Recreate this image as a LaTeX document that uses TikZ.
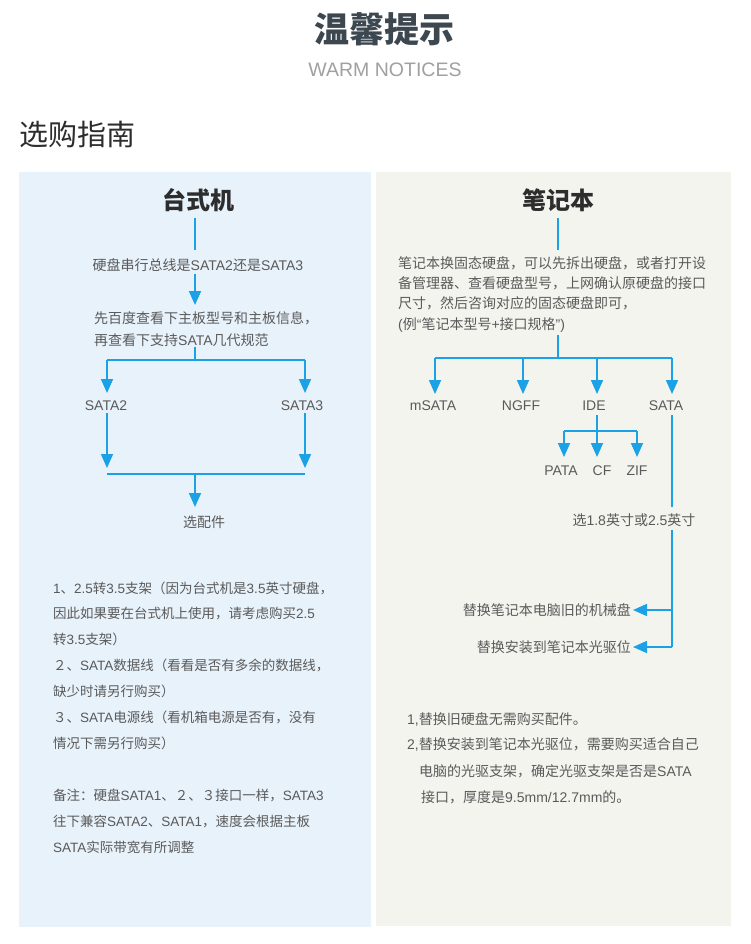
\documentclass[tikz,border=0pt]{standalone}
\usepackage{fontspec}
\setmainfont{Noto Sans CJK SC}
\newfontfamily\latinsans{Liberation Sans}
\newcommand\latn[1]{{\latinsans #1}}
\usetikzlibrary{arrows.meta}
\definecolor{flow}{RGB}{27,161,229}
\definecolor{leftbg}{RGB}{232,242,251}
\definecolor{rightbg}{RGB}{244,244,238}
\definecolor{txt}{RGB}{90,90,90}
\definecolor{hdr}{RGB}{60,71,79}
\definecolor{ttl}{RGB}{45,45,45}
\definecolor{sub}{RGB}{160,160,160}
\begin{document}
\begin{tikzpicture}[x=1pt,y=-1pt,
  line/.style={draw=flow,line width=1.7pt},
  arr/.style={line,-{Triangle[width=12pt,length=14pt]}},
  flowlbl/.style={text=txt,font=\fontsize{14}{16}\selectfont,inner sep=0pt,anchor=base},
  flowtxt/.style={text=txt,font=\fontsize{14}{16}\selectfont,inner sep=0pt,anchor=base west},
  notetxt/.style={text=txt,font=\fontsize{13.5}{16}\selectfont,inner sep=0pt,anchor=base west},
  paneltitle/.style={text=ttl,font=\fontsize{24}{28}\selectfont\bfseries,inner sep=0pt}
]
\useasboundingbox (0,0) rectangle (750,944);
\fill[white] (0,0) rectangle (750,944);

% header
\node[text=hdr,font=\fontsize{35}{40}\selectfont\bfseries,inner sep=0pt] (title) at (384,29) {温馨提示};
\node[text=sub,font=\latinsans\fontsize{19.5}{22}\selectfont,inner sep=0pt] (subtitle) at (385,70) {WARM NOTICES};
\node[text=ttl,font=\fontsize{29}{34}\selectfont,inner sep=0pt,anchor=west] (guide) at (19,134) {选购指南};

% panels
\fill[leftbg] (19,172) rectangle (371,927);
\fill[rightbg] (376,172) rectangle (731,926);

% ---------- left panel ----------
\node[paneltitle] (desk) at (198,200) {台式机};
\coordinate (dA) at (195,218);
\coordinate (dB) at (195,250);
\draw[line] (dA) -- (dB);
\node[flowlbl] (q1) at (198,270) {硬盘串行总线是\latn{SATA2}还是\latn{SATA3}};
\coordinate (dC) at (195,274);
\coordinate (dD) at (195,305);
\draw[arr] (dC) -- (dD);
\node[flowtxt] (q2a) at (94,323) {先百度查看下主板型号和主板信息，};
\node[flowtxt] (q2b) at (94,345) {再查看下支持\latn{SATA}几代规范};
\coordinate (dE) at (195,347);
\coordinate (dF) at (195,360);
\coordinate (dL) at (107,360);
\coordinate (dR) at (305,360);
\coordinate (dLt) at (107,393);
\coordinate (dRt) at (305,393);
\draw[line] (dE) -- (dF);
\draw[line] (dL) -- (dR);
\draw[arr] (dL) -- (dLt);
\draw[arr] (dR) -- (dRt);
\node[flowlbl] (s2) at (106,410) {\latn{SATA2}};
\node[flowlbl] (s3) at (302,410) {\latn{SATA3}};
\coordinate (dL2) at (107,413);
\coordinate (dR2) at (305,413);
\coordinate (dL3) at (107,468);
\coordinate (dR3) at (305,468);
\draw[arr] (dL2) -- (dL3);
\draw[arr] (dR2) -- (dR3);
\coordinate (dJL) at (107,474);
\coordinate (dJR) at (305,474);
\coordinate (dJ) at (195,474);
\coordinate (dK) at (195,507);
\draw[line] (dJL) -- (dJR);
\draw[arr] (dJ) -- (dK);
\node[flowlbl] (acc) at (204,527) {选配件};

% left notes
\node[notetxt] (n1) at (53,593) {\latn{1}、\latn{2.5}转\latn{3.5}支架（因为台式机是\latn{3.5}英寸硬盘，};
\node[notetxt] (n2) at (53,618) {因此如果要在台式机上使用，请考虑购买\latn{2.5}};
\node[notetxt] (n3) at (53,644) {转\latn{3.5}支架）};
\node[notetxt] (n4) at (53,670) {２、\latn{SATA}数据线（看看是否有多余的数据线，};
\node[notetxt] (n5) at (53,696) {缺少时请另行购买）};
\node[notetxt] (n6) at (53,722) {３、\latn{SATA}电源线（看机箱电源是否有，没有};
\node[notetxt] (n7) at (53,748) {情况下需另行购买）};
\node[notetxt] (n8) at (53,800) {备注：硬盘\latn{SATA1}、２、３接口一样，\latn{SATA3}};
\node[notetxt] (n9) at (53,826) {往下兼容\latn{SATA2}、\latn{SATA1}，速度会根据主板};
\node[notetxt] (n10) at (53,852) {\latn{SATA}实际带宽有所调整};

% ---------- right panel ----------
\node[paneltitle] (note) at (558,200) {笔记本};
\coordinate (rA) at (558,218);
\coordinate (rB) at (558,250);
\draw[line] (rA) -- (rB);
\node[flowtxt] (p1) at (398,268) {笔记本换固态硬盘，可以先拆出硬盘，或者打开设};
\node[flowtxt] (p2) at (398,288) {备管理器、查看硬盘型号，上网确认原硬盘的接口};
\node[flowtxt] (p3) at (398,308) {尺寸，然后咨询对应的固态硬盘即可，};
\node[flowtxt] (p4) at (398,329) {\latn{(}例\latn{“}笔记本型号\latn{+}接口规格\latn{”)}};
\coordinate (rC) at (558,335);
\coordinate (rD) at (558,358);
\draw[line] (rC) -- (rD);
\coordinate (r1) at (435,358);
\coordinate (r2) at (523,358);
\coordinate (r3) at (597,358);
\coordinate (r4) at (672,358);
\draw[line] (r1) -- (r4);
\coordinate (r1t) at (435,394);
\coordinate (r2t) at (523,394);
\coordinate (r3t) at (597,394);
\coordinate (r4t) at (672,394);
\draw[arr] (r1) -- (r1t);
\draw[arr] (r2) -- (r2t);
\draw[arr] (r3) -- (r3t);
\draw[arr] (r4) -- (r4t);
\node[flowlbl] (msata) at (433,410) {\latn{mSATA}};
\node[flowlbl] (ngff) at (521,410) {\latn{NGFF}};
\node[flowlbl] (ide) at (594,410) {\latn{IDE}};
\node[flowlbl] (sata) at (666,410) {\latn{SATA}};
% IDE branch
\coordinate (iA) at (597,415);
\coordinate (iB) at (597,431);
\coordinate (i1) at (564,431);
\coordinate (i3) at (637,431);
\coordinate (i1t) at (564,457);
\coordinate (i2t) at (597,457);
\coordinate (i3t) at (637,457);
\draw[line] (iA) -- (iB);
\draw[line] (i1) -- (i3);
\draw[arr] (i1) -- (i1t);
\draw[arr] (iB) -- (i2t);
\draw[arr] (i3) -- (i3t);
\node[flowlbl] (pata) at (561,475) {\latn{PATA}};
\node[flowlbl] (cf) at (602,475) {\latn{CF}};
\node[flowlbl] (zif) at (637,475) {\latn{ZIF}};
% SATA branch
\coordinate (sA) at (672,415);
\coordinate (sB) at (672,507);
\draw[line] (sA) -- (sB);
\node[flowlbl] (size) at (634,525) {选\latn{1.8}英寸或\latn{2.5}英寸};
\coordinate (sC) at (672,530);
\coordinate (sD) at (672,610);
\coordinate (sE) at (672,647);
\coordinate (t1) at (633,610);
\coordinate (t2) at (633,647);
\draw[line] (sC) -- (sE);
\draw[arr] (sD) -- (t1);
\draw[arr] (sE) -- (t2);
\node[flowtxt,anchor=base east] (rep1) at (631,615) {替换笔记本电脑旧的机械盘};
\node[flowtxt,anchor=base east] (rep2) at (631,652) {替换安装到笔记本光驱位};

% right notes
\node[flowtxt] (m1) at (407,724) {\latn{1,}替换旧硬盘无需购买配件。};
\node[flowtxt] (m2) at (407,749) {\latn{2,}替换安装到笔记本光驱位，需要购买适合自己};
\node[flowtxt] (m3) at (419,776) {电脑的光驱支架，确定光驱支架是否是\latn{SATA}};
\node[flowtxt] (m4) at (421,802) {接口，厚度是\latn{9.5mm/12.7mm}的。};
\end{tikzpicture}
\end{document}
